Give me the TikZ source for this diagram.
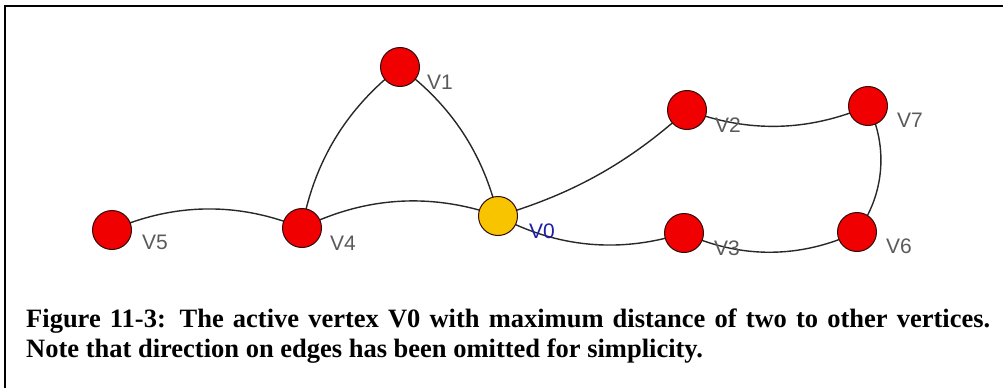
\documentclass[tikz,border=0pt]{standalone}
\usepackage{fontspec}
\setmainfont{Liberation Serif}
\newfontfamily\labfont{Liberation Sans}
\usetikzlibrary{backgrounds}
\definecolor{vred}{RGB}{240,0,0}
\definecolor{vyellow}{RGB}{248,196,0}
\definecolor{vborder}{RGB}{50,10,10}
\definecolor{edgecol}{RGB}{40,40,40}
\definecolor{labgray}{RGB}{90,90,90}
\definecolor{labblue}{RGB}{30,30,170}
\begin{document}
\begin{tikzpicture}[x=1pt,y=1pt,
  vtx/.style={circle,draw=vborder,line width=1pt,fill=vred,minimum size=39pt,inner sep=0pt},
  act/.style={vtx,fill=vyellow},
  lab/.style={font=\labfont\fontsize{21}{21}\selectfont,text=labgray,inner sep=0pt},
  edge/.style={draw=edgecol,line width=1.4pt,looseness=0.92}]
\useasboundingbox (0,0) rectangle (1003,-388);
\draw[line width=2pt] (5,-388) -- (5,-6) -- (1003,-6);
% vertices
\node[act] (v0) at (498,-216) {};
\node[vtx] (v1) at (400,-67) {};
\node[vtx] (v2) at (687,-110) {};
\node[vtx] (v3) at (684,-233) {};
\node[vtx] (v4) at (302,-228) {};
\node[vtx] (v5) at (112,-230) {};
\node[vtx] (v6) at (857,-232) {};
\node[vtx] (v7) at (868,-106) {};
% edges
\begin{scope}[on background layer]
\draw[edge] (v5.center) to[bend left=23] (v4.center);
\draw[edge] (v4.center) to[bend left=23] (v0.center);
\draw[edge] (v4.center) to[bend left=21] (v1.center);
\draw[edge] (v1.center) to[bend left=20] (v0.center);
\draw[edge] (v0.center) to[bend right=13] (v2.center);
\draw[edge] (v2.center) to[bend right=22] (v7.center);
\draw[edge] (v7.center) to[bend left=32] (v6.center);
\draw[edge] (v0.center) to[bend right=23] (v3.center);
\draw[edge] (v3.center) to[bend right=25] (v6.center);
\end{scope}
% labels
\node[lab] (l5) at (155,-242) {V5};
\node[lab] (l4) at (343,-243) {V4};
\node[lab] (l1) at (440,-82) {V1};
\node[lab] (l2) at (728,-125) {V2};
\node[lab] (l7) at (910,-120) {V7};
\node[lab] (l3) at (727,-248) {V3};
\node[lab] (l6) at (899,-246) {V6};
\node[lab,text=labblue] (l0) at (542,-231) {V0};
% caption
\node[anchor=north west,text width=964pt,align=justify,inner sep=0pt,
  font=\bfseries\fontsize{26.5}{30}\selectfont] (cap) at (26,-309)
  {Figure 11-3: The active vertex V0 with maximum distance of two to other vertices.\linebreak Note that direction on edges has been omitted for simplicity.};
\end{tikzpicture}
\end{document}
